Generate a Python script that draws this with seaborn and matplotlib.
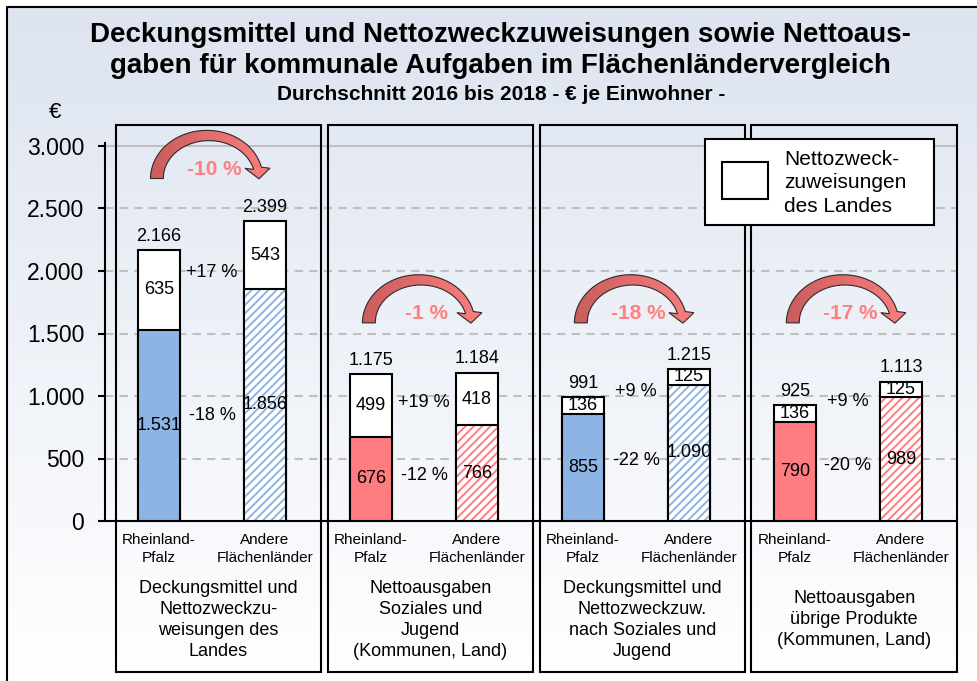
import numpy as np
import pandas as pd
import matplotlib.pyplot as plt
import seaborn as sns
from matplotlib.patches import Rectangle, Polygon
from matplotlib.colors import LinearSegmentedColormap
from matplotlib.lines import Line2D
from matplotlib.transforms import Affine2D, ScaledTranslation

# Werte in Euro je Einwohner, Durchschnitt 2016 bis 2018
laender = ["Rheinland-\nPfalz", "Andere\nFlächenländer"]
gruppen = [
    "Deckungsmittel und\nNettozweckzu-\nweisungen des\nLandes",
    "Nettoausgaben\nSoziales und\nJugend\n(Kommunen, Land)",
    "Deckungsmittel und\nNettozweckzuw.\nnach Soziales und\nJugend",
    "Nettoausgaben\nübrige Produkte\n(Kommunen, Land)",
]
basis_rp = [1531, 676, 855, 790]
basis_af = [1856, 766, 1090, 989]
zuweisung_rp = [635, 499, 136, 136]
zuweisung_af = [543, 418, 125, 125]
summe_rp = [2166, 1175, 991, 925]
summe_af = [2399, 1184, 1215, 1113]
aend_zuweisung = ["+17 %", "+19 %", "+9 %", "+9 %"]
aend_basis = ["-18 %", "-12 %", "-22 %", "-20 %"]
aend_summe = ["-10 %", "-1 %", "-18 %", "-17 %"]
y_ticks = [0, 500, 1000, 1500, 2000, 2500, 3000]

farben = ["#8eb4e3", "#ff7c80", "#8eb4e3", "#ff7c80"]
pfeil_y = [2740, 1585, 1585, 1585]  # Lage der Bogenpfeile


def fmt(v):
    return f"{v:,}".replace(",", ".")


rows = []
for k in range(4):
    rows.append(dict(pos=2 * k, basis=basis_rp[k], zuw=zuweisung_rp[k],
                     summe=summe_rp[k], farbe=farben[k], schraffur=False))
    rows.append(dict(pos=2 * k + 1, basis=basis_af[k], zuw=zuweisung_af[k],
                     summe=summe_af[k], farbe=farben[k], schraffur=True))
df = pd.DataFrame(rows)
df["oben"] = df["basis"] + df["zuw"]

sns.set_theme(style="white")
plt.rcParams["font.family"] = ["Liberation Sans", "DejaVu Sans"]
plt.rcParams["text.color"] = "black"
plt.rcParams["ytick.color"] = "black"
plt.rcParams["hatch.linewidth"] = 1.4

W, H = 978, 681
fig = plt.figure(figsize=(W / 100, H / 100), dpi=100)


def fx(px):
    return px / W


def fy(py):
    return 1 - py / H


# Hintergrund mit Verlauf und Rahmen
bg = fig.add_axes([0, 0, 1, 1], zorder=-10)
bg.set_facecolor("white")
grad = np.linspace(0, 1, 256).reshape(-1, 1)
cmap = LinearSegmentedColormap.from_list("bg", ["#dde4f0", "#ffffff"])
bg.imshow(grad, aspect="auto", cmap=cmap, origin="upper",
          extent=[fx(7), 1, 0, fy(7)])
bg.set_xlim(0, 1)
bg.set_ylim(0, 1)
bg.axis("off")
fig.add_artist(Line2D([fx(7), fx(7), 1], [0, fy(7), fy(7)], color="black", lw=1.5))

y_max = 3300
ax = fig.add_axes([fx(105), fy(521), (956 - 105) / W, y_max * 0.125 / H])
ax.set_facecolor("none")

# gestapelte Balken
sns.barplot(data=df, x="pos", y="oben", color="white", saturation=1, width=0.4,
            edgecolor="black", linewidth=1.5, errorbar=None, ax=ax, zorder=3)
n0 = len(ax.patches)
sns.barplot(data=df, x="pos", y="basis", color="white", saturation=1, width=0.4,
            edgecolor="black", linewidth=1.5, errorbar=None, ax=ax, zorder=3)
for patch, (_, r) in zip(ax.patches[n0:], df.iterrows()):
    if r.schraffur:
        patch.set_facecolor("white")
        patch.set_edgecolor(r.farbe)
        patch.set_hatch("////")
        patch.set_linewidth(0)
    else:
        patch.set_facecolor(r.farbe)
m = df["schraffur"]
ax.bar(df.loc[m, "pos"], df.loc[m, "basis"], width=0.4, fill=False,
       edgecolor="black", linewidth=1.5, zorder=4)

for t in y_ticks[1:]:
    ls = "-" if t == y_ticks[-1] else (0, (4, 3))
    ax.axhline(t, color="#bfbfbf", lw=1.5, ls=ls, zorder=1)

# Werte
for _, r in df.iterrows():
    ax.text(r.pos, r.basis / 2, fmt(r.basis), ha="center", va="center",
            fontsize=13, zorder=6)
    ax.text(r.pos, r.basis + r.zuw / 2, fmt(r.zuw), ha="center", va="center",
            fontsize=13, zorder=6)
    ax.annotate(fmt(r.summe), (r.pos, r.oben), xytext=(0, 4),
                textcoords="offset points", ha="center", va="bottom", fontsize=13)
    ax.text(r.pos, -100, laender[r.pos % 2], ha="center", va="top", fontsize=11,
            linespacing=1.35)

# Bogenpfeil: Umriss in Pixeln relativ zum Fusspunkt
pfeil_cmap = LinearSegmentedColormap.from_list("pfeil", ["#c95c5c", "#ff8080"])
t = np.linspace(np.pi, 0.24, 80)
breite = np.linspace(13, 8, 80)
a, b = 51, 43
px, py = a + a * np.cos(t), b * np.sin(t)
nx, ny = np.cos(t) / a, np.sin(t) / b
nn = np.hypot(nx, ny)
nx, ny = nx / nn, ny / nn
aussen = np.c_[px + nx * breite / 2, py + ny * breite / 2]
innen = np.c_[px - nx * breite / 2, py - ny * breite / 2]
ende = np.array([px[-1], py[-1]])
spitze = [ende + [12.5, 0], ende + [1.5, -10.5], ende + [-12.5, 0]]
pfeil_umriss = np.vstack([aussen, spitze, innen[::-1]])

for k in range(4):
    rp, af = df.iloc[2 * k], df.iloc[2 * k + 1]
    y_z = (rp.basis + rp.zuw / 2 + af.basis + af.zuw / 2) / 2
    y_b = (rp.basis + af.basis) / 4
    ax.text(2 * k + 0.5, y_z, aend_zuweisung[k], ha="center", va="center", fontsize=13)
    ax.text(2 * k + 0.5, y_b, aend_basis[k], ha="center", va="center", fontsize=13)

    x0 = 2 * k - 0.02
    trans = Affine2D().scale(fig.dpi / 100) + ScaledTranslation(x0, pfeil_y[k], ax.transData)
    poly = Polygon(pfeil_umriss, closed=True, transform=trans, fc="none",
                   ec="#2b2b2b", lw=0.8, zorder=6)
    ax.add_patch(poly)
    img = ax.imshow(np.linspace(0, 1, 64).reshape(1, -1), cmap=pfeil_cmap,
                    extent=[x0 - 0.1, x0 + 1.15, pfeil_y[k] - 150, pfeil_y[k] + 500],
                    aspect="auto", interpolation="bilinear", zorder=5)
    img.set_clip_path(poly)
    ax.text(2 * k + 0.52, pfeil_y[k] + 72, aend_summe[k], color="#ff8080",
            fontweight="bold", fontsize=15, ha="center", va="center", zorder=7)

    ax.add_patch(Rectangle((2 * k - 0.41, -1208), 1.94, 3168 + 1208, fill=False,
                           ec="black", lw=1.5, clip_on=False, zorder=2))
    ax.text(2 * k + 0.56, -790, gruppen[k], ha="center", va="center", fontsize=13,
            linespacing=1.3)

ax.set_xlim(-0.51, 7.52)
ax.set_ylim(0, y_max)
ax.set_xticks([])
ax.set_xlabel("")
ax.set_ylabel("")
ax.set_yticks(y_ticks)
ax.set_yticklabels([fmt(t) for t in y_ticks], fontsize=16.5)
ax.tick_params(axis="y", left=True, direction="out", length=5, width=1.5,
               pad=10, colors="black")
for s in ["top", "right"]:
    ax.spines[s].set_visible(False)
for s in ["left", "bottom"]:
    ax.spines[s].set_color("black")
    ax.spines[s].set_linewidth(1.5)
ax.spines["left"].set_bounds(0, 3024)

# Legende
fig.add_artist(Rectangle((fx(705), fy(225)), (934 - 705) / W, 86 / H,
                         transform=fig.transFigure, fc="white", ec="black", lw=1.5,
                         zorder=10))
fig.add_artist(Rectangle((fx(722), fy(199)), 46 / W, 37 / H,
                         transform=fig.transFigure, fc="white", ec="black", lw=1.5,
                         zorder=11))
fig.text(fx(784), fy(183), "Nettozweck-\nzuweisungen\ndes Landes", ha="left",
         va="center", fontsize=15, linespacing=1.33, zorder=11)

# Titel
fig.text(fx(500), fy(22), "Deckungsmittel und Nettozweckzuweisungen sowie Nettoaus-\n"
         "gaben für kommunale Aufgaben im Flächenländervergleich",
         ha="center", va="top", fontsize=20, fontweight="bold", linespacing=1.25)
fig.text(fx(501), fy(94), "Durchschnitt 2016 bis 2018 - € je Einwohner -",
         ha="center", va="center", fontsize=15, fontweight="bold")
fig.text(fx(55), fy(112), "€", ha="center", va="center", fontsize=16)

fig.savefig("out.png", dpi=100)
